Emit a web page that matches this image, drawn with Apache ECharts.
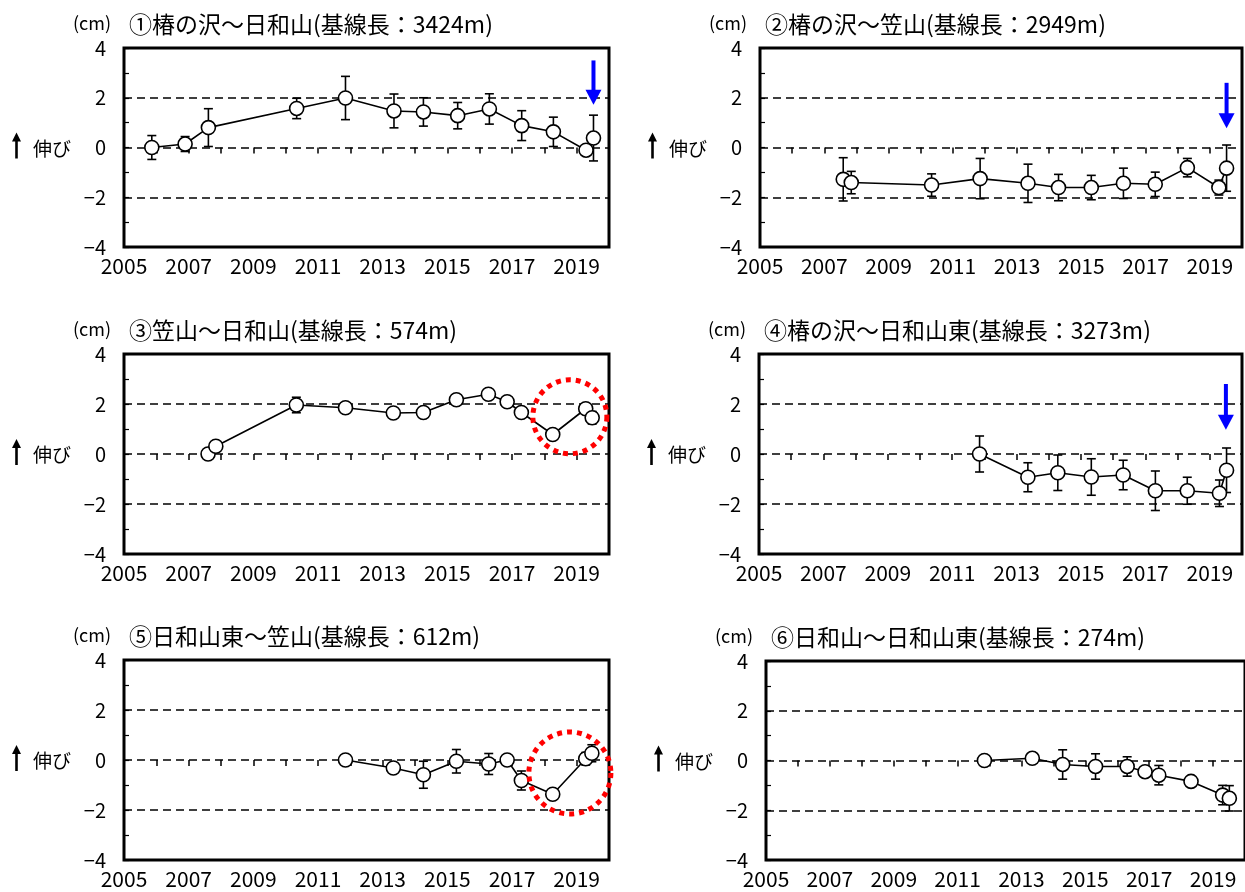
<!DOCTYPE html>
<html><head><meta charset="utf-8">
<script src="https://cdn.jsdelivr.net/npm/echarts@6/dist/echarts.min.js"></script>
<style>html,body{margin:0;padding:0;background:#fff}#c{width:1245px;height:892px}</style>
</head><body><div id="c"></div>
<script>
// ---- data (years, values in cm, error half-width in cm) ----
const titles = [
  '①椿の沢～日和山(基線長：3424m)',
  '②椿の沢～笠山(基線長：2949m)',
  '③笠山～日和山(基線長：574m)',
  '④椿の沢～日和山東(基線長：3273m)',
  '⑤日和山東～笠山(基線長：612m)',
  '⑥日和山～日和山東(基線長：274m)'
];
const unitLabel = '(cm)';
const axisName = '伸び';

const p1X = [2005.86, 2006.89, 2007.61, 2010.34, 2011.85, 2013.35, 2014.26, 2015.32, 2016.30, 2017.30, 2018.28, 2019.29, 2019.52];
const p1Y = [0.00, 0.14, 0.80, 1.57, 1.99, 1.47, 1.43, 1.28, 1.55, 0.88, 0.63, -0.11, 0.38];
const p1E = [0.48, 0.30, 0.76, 0.41, 0.87, 0.68, 0.57, 0.53, 0.61, 0.60, 0.59, 0.17, 0.92];

const p2X = [2007.59, 2007.84, 2010.34, 2011.85, 2013.34, 2014.29, 2015.31, 2016.31, 2017.30, 2018.30, 2019.28, 2019.52];
const p2Y = [-1.28, -1.41, -1.51, -1.25, -1.44, -1.61, -1.61, -1.44, -1.48, -0.81, -1.61, -0.83];
const p2E = [0.87, 0.45, 0.45, 0.81, 0.77, 0.53, 0.49, 0.61, 0.49, 0.37, 0.30, 0.93];

const p3X = [2007.60, 2007.84, 2010.33, 2011.85, 2013.33, 2014.26, 2015.28, 2016.27, 2016.85, 2017.29, 2018.26, 2019.28, 2019.48];
const p3Y = [0.00, 0.31, 1.96, 1.85, 1.64, 1.66, 2.17, 2.39, 2.09, 1.66, 0.78, 1.81, 1.45];
const p3E = [0.05, 0.05, 0.31, 0.10, 0.08, 0.08, 0.08, 0.08, 0.08, 0.08, 0.08, 0.15, 0.25];

const p4X = [2011.85, 2013.35, 2014.28, 2015.32, 2016.31, 2017.31, 2018.30, 2019.30, 2019.52];
const p4Y = [0.00, -0.93, -0.75, -0.92, -0.84, -1.47, -1.47, -1.57, -0.65];
const p4E = [0.72, 0.58, 0.71, 0.73, 0.59, 0.79, 0.54, 0.53, 0.89];

const p5X = [2011.85, 2013.33, 2014.26, 2015.28, 2016.28, 2016.85, 2017.29, 2018.26, 2019.28, 2019.47];
const p5Y = [0.00, -0.32, -0.59, -0.05, -0.16, 0.00, -0.82, -1.37, 0.05, 0.27];
const p5E = [0.05, 0.08, 0.54, 0.47, 0.42, 0.12, 0.38, 0.08, 0.25, 0.34];

const p6X = [2011.84, 2013.34, 2014.29, 2015.32, 2016.31, 2016.87, 2017.30, 2018.31, 2019.30, 2019.51];
const p6Y = [0.00, 0.09, -0.16, -0.24, -0.24, -0.45, -0.59, -0.84, -1.39, -1.52];
const p6E = [0.05, 0.08, 0.59, 0.51, 0.39, 0.08, 0.39, 0.08, 0.39, 0.51];

// blue arrows: [x, yTop, yTip] ; red circles: [x, y]
const arrows1 = [[2019.52, 3.5, 1.72]];
const arrows2 = [[2019.52, 2.6, 0.77]];
const arrows4 = [[2019.5, 2.8, 0.97]];
const circles3 = [[2018.79, 1.49]];
const circles5 = [[2018.79, -0.52]];

const yTicks = [-4, -2, 0, 2, 4];
const xMin = 2005, xMax = 2020;

// ---- layout ----
const grids = [
  {left: 124, top: 48, width: 485, height: 199},
  {left: 760, top: 48, width: 482, height: 199},
  {left: 124, top: 354, width: 485, height: 200},
  {left: 759, top: 354, width: 483, height: 200},
  {left: 124, top: 660, width: 485, height: 200},
  {left: 766, top: 661, width: 484, height: 199}
];
const panels = [
  {x: p1X, y: p1Y, e: p1E, arrows: arrows1, circles: []},
  {x: p2X, y: p2Y, e: p2E, arrows: arrows2, circles: []},
  {x: p3X, y: p3Y, e: p3E, arrows: [], circles: circles3},
  {x: p4X, y: p4Y, e: p4E, arrows: arrows4, circles: []},
  {x: p5X, y: p5Y, e: p5E, arrows: [], circles: circles5},
  {x: p6X, y: p6Y, e: p6E, arrows: [], circles: []}
];
const FONT = "'Noto Sans CJK JP', 'Noto Sans', sans-serif";

const option = {animation: false, backgroundColor: '#fff', grid: [], xAxis: [], yAxis: [], series: [], graphic: []};

grids.forEach((g, i) => {
  option.grid.push(Object.assign({show: true, borderColor: '#000', borderWidth: 3, backgroundColor: 'transparent', containLabel: false}, g));
  option.xAxis.push({
    type: 'value', gridIndex: i, min: xMin, max: xMax, interval: 1,
    axisLine: {show: false},
    axisTick: {show: true, inside: false, length: 6, lineStyle: {color: '#000', width: 1.5}},
    splitLine: {show: false},
    axisLabel: {color: '#000', fontSize: 21, fontFamily: FONT, margin: 9, showMaxLabel: false,
      formatter: v => ((v - 2005) % 2 === 0 ? String(v) : '')}
  });
  option.yAxis.push({
    type: 'value', gridIndex: i, min: -4, max: 4, interval: 1,
    axisLine: {show: false},
    axisTick: {show: true, inside: true, length: 5, lineStyle: {color: '#000', width: 1.2}},
    splitLine: {show: false},
    axisLabel: {color: '#000', fontSize: 20, fontFamily: FONT, margin: 18,
      formatter: v => (yTicks.indexOf(v) >= 0 ? (v < 0 ? '\u2212' + (-v) : String(v)) : '')}
  });
  const p = panels[i];
  // error bars
  option.series.push({
    type: 'custom', xAxisIndex: i, yAxisIndex: i, z: 2, silent: true,
    data: p.x.map((x, k) => [x, p.y[k] - p.e[k], p.y[k] + p.e[k]]),
    encode: {x: 0, y: [1, 2]},
    renderItem: (params, api) => {
      const a = api.coord([api.value(0), api.value(2)]);
      const b = api.coord([api.value(0), api.value(1)]);
      const w = 4.5, st = {stroke: '#000', lineWidth: 1.6};
      return {type: 'group', children: [
        {type: 'line', shape: {x1: a[0], y1: a[1], x2: b[0], y2: b[1]}, style: st},
        {type: 'line', shape: {x1: a[0] - w, y1: a[1], x2: a[0] + w, y2: a[1]}, style: st},
        {type: 'line', shape: {x1: b[0] - w, y1: b[1], x2: b[0] + w, y2: b[1]}, style: st}
      ]};
    }
  });
  // dashed reference lines + data line
  option.series.push({
    type: 'line', xAxisIndex: i, yAxisIndex: i, z: 3,
    data: p.x.map((x, k) => [x, p.y[k]]),
    symbol: 'circle', symbolSize: 14,
    lineStyle: {color: '#000', width: 1.6},
    itemStyle: {color: '#fff', borderColor: '#000', borderWidth: 1.6},
    markLine: {silent: true, symbol: 'none', label: {show: false}, z: 1,
      lineStyle: {color: '#000', width: 1.6, type: [8, 5]},
      data: [{yAxis: 2}, {yAxis: 0}, {yAxis: -2}]}
  });
  if (p.arrows.length) {
    option.series.push({
      type: 'custom', xAxisIndex: i, yAxisIndex: i, z: 5, silent: true, clip: false,
      data: p.arrows, encode: {x: 0, y: [1, 2]},
      renderItem: (params, api) => {
        const a = api.coord([api.value(0), api.value(1)]);
        const b = api.coord([api.value(0), api.value(2)]);
        const hh = 15, hw = 8;
        return {type: 'group', children: [
          {type: 'line', shape: {x1: a[0], y1: a[1], x2: b[0], y2: b[1] - hh + 1}, style: {stroke: '#0000ff', lineWidth: 4}},
          {type: 'polygon', shape: {points: [[b[0] - hw, b[1] - hh], [b[0] + hw, b[1] - hh], [b[0], b[1]]]}, style: {fill: '#0000ff'}}
        ]};
      }
    });
  }
  if (p.circles.length) {
    option.series.push({
      type: 'custom', xAxisIndex: i, yAxisIndex: i, z: 6, silent: true, clip: false,
      data: p.circles, encode: {x: 0, y: 1},
      renderItem: (params, api) => {
        const c = api.coord([api.value(0), api.value(1)]);
        const r = i === 2 ? 37 : 41;
        return {type: 'circle', shape: {cx: c[0], cy: c[1], r: r},
          style: {fill: 'none', stroke: '#ff0000', lineWidth: 5, lineDash: [5, 5]}};
      }
    });
  }
  // texts
  const cy = g.top + g.height / 2;
  option.graphic.push(
    {type: 'text', x: g.left - 13, y: g.top - 25, style: {text: unitLabel, font: '18px ' + FONT, fill: '#000', align: 'right', verticalAlign: 'middle'}},
    {type: 'text', x: g.left + 5, y: g.top - 24, style: {text: titles[i], font: '23px ' + FONT, fill: '#000', align: 'left', verticalAlign: 'middle'}},
    {type: 'text', x: g.left - 91, y: cy + 1, style: {text: axisName, font: '19px ' + FONT, fill: '#000', align: 'left', verticalAlign: 'middle'}},
    {type: 'group', x: g.left - 112, y: cy - 15, children: [
      {type: 'polygon', shape: {points: [[0, 9], [4.5, 0], [9, 9]]}, style: {fill: '#000'}},
      {type: 'rect', shape: {x: 3.2, y: 7, width: 2.6, height: 19}, style: {fill: '#000'}}
    ]}
  );
});

const chart = echarts.init(document.getElementById('c'), null, {renderer: 'canvas'});
chart.setOption(option);
</script>
</body></html>
